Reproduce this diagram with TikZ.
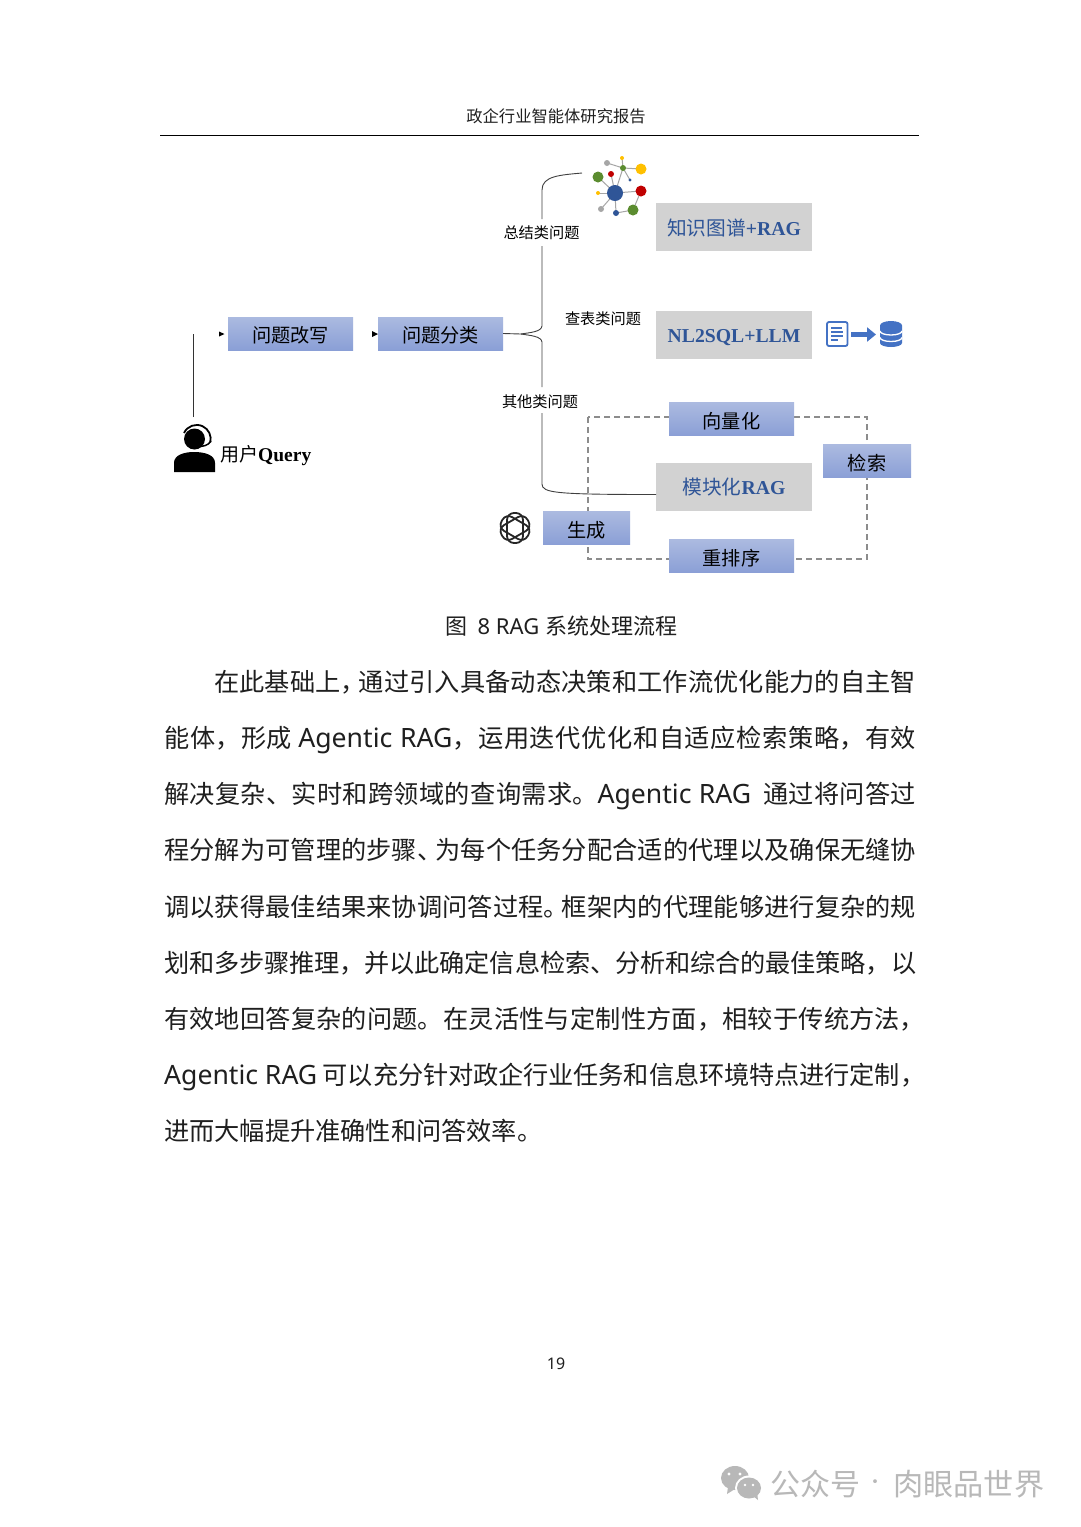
\documentclass[tikz,border=0pt]{standalone}
\usepackage{fontspec}
\setmainfont{Noto Sans CJK SC}
\newfontfamily\lat{Noto Sans}
\newfontfamily\serifb[BoldFont=Liberation Serif Bold]{Liberation Serif}
\usetikzlibrary{arrows.meta,calc}
\XeTeXlinebreaklocale "zh"
\XeTeXlinebreakskip=0pt plus 3pt minus 1.5pt
\definecolor{bluetop}{HTML}{ABBAE0}
\definecolor{bluebot}{HTML}{8A9FD6}
\definecolor{greybox}{HTML}{D2D2D2}
\definecolor{deepblue}{HTML}{2F5597}
\definecolor{iconblue}{HTML}{4472C4}
\definecolor{bodyink}{HTML}{1F1F1F}
\definecolor{wm}{HTML}{B8B8B8}
\newcommand{\fs}[1]{\fontsize{#1}{#1}\selectfont}
\newcommand{\ser}[1]{{\serifb\bfseries #1}}
\newcommand{\lw}[2]{\raisebox{-#1pt}[\height][\depth]{#2}}
\newcommand{\lo}[1]{\lw{1.9}{#1}}
\newcommand{\Ag}{{\lat\fs{26.6}Agentic RAG}}
\newcommand{\jline}[2]{\parbox[b]{#1}{\parfillskip=0pt\tolerance=10000\pretolerance=-1\hbadness=10000\hfuzz=20pt\noindent #2}}
\tikzset{
 bluebox/.style={minimum width=#1,minimum height=33pt,inner sep=0pt,top color=bluetop,bottom color=bluebot,font=\fs{19.2},text=black},
 greyrect/.style={fill=greybox,minimum width=156pt,minimum height=48pt,inner sep=0pt,font=\fs{19.7},text=deepblue},
 smalllabel/.style={inner sep=1pt,font=\fs{15.2},text=black},
 bodyline/.style={anchor=base west,inner sep=0pt,font=\fs{25.2},text=bodyink},
 wire/.style={draw=black!75,line width=.9pt},
 dashwire/.style={draw=black!45,line width=1.05pt,dash pattern=on 6pt off 4pt},
 tipmark/.style={fill=black},
 gedge/.style={draw=black!35,line width=1pt},
}
\begin{document}
\begin{tikzpicture}[x=1pt,y=-1pt]
\useasboundingbox[fill=white] (0,0) rectangle (1080,1527);
% header
\node[font=\fs{16.3},text=bodyink,inner sep=0pt] (hdr) at (556,116) {政企行业智能体研究报告};
\coordinate (rl) at (160,135.5); \coordinate (rr) at (919,135.5);
\draw[black,line width=1pt] (rl) -- (rr);
% dashed loop (behind boxes)
\draw[dashwire] (588,417) rectangle (867,559);
% boxes
\node[bluebox=125pt] (gx) at (290.5,333.5) {\lo{问题改写}};
\node[bluebox=125pt] (fl) at (440.5,333.5) {\lo{问题分类}};
\node[greyrect] (kg) at (734,227) {\lw{.6}{知识图谱\ser{+RAG}}\hspace{6pt}};
\node[greyrect] (sql) at (734,335) {\lw{2.5}{\ser{NL2SQL+LLM}}};
\node[greyrect] (mod) at (734,486.5) {\lw{.8}{模块化\ser{RAG}}};
\node[bluebox=125pt] (vec) at (731.5,419) {\lo{向量化}};
\node[bluebox=88pt] (ret) at (867,461) {\lo{检索}};
\node[bluebox=87pt] (gen) at (586.5,528) {\lo{生成}};
\node[bluebox=125pt] (rer) at (731.5,556) {\lo{重排序}};
% labels
\node[smalllabel] (l1) at (541.5,233) {总结类问题};
\node[smalllabel] (l2) at (603,319) {查表类问题};
\node[smalllabel] (l3) at (540,401.5) {其他类问题};
% brace connectors
\coordinate (kgend) at (582,173);
\coordinate (modend) at (656,494.5);
\coordinate (brtip) at (521,334);
\coordinate (brtop) at (542,190);
\coordinate (brbot) at (542,484);
\coordinate (g1a) at (542,219); \coordinate (g1b) at (542,246);
\coordinate (g3a) at (542,387); \coordinate (g3b) at (542,413);
\draw[wire] (fl.east) -- (brtip);
\draw[wire] (brtip) .. controls (530,332.5) and (541,332) .. (542,326) -- (g1b);
\draw[wire] (g1a) -- (brtop) .. controls (542,176) and (560,175) .. (kgend);
\draw[wire] (brtip) .. controls (530,335.5) and (541,336) .. (542,342) -- (g3a);
\draw[wire] (g3b) -- (brbot) .. controls (542,493) and (556,494.5) .. (modend);
% user line and arrow marks
\coordinate (usr) at (193.5,417); \coordinate (usrup) at (193.5,334);
\draw[black!80,line width=.9pt] (usr) -- (usrup);
\fill[tipmark] (219,331.5) -- (224.5,334) -- (219,336.5) -- cycle;
\fill[tipmark] (372,331) -- (378,334) -- (372,337) -- cycle;
% user
\fill[black] (194.5,439) circle (10.5);
\draw[black,line width=1.8pt] (184,433) arc[start angle=205,end angle=375,radius=14];
\draw[black,line width=1.5pt] (211,441) .. controls (208,446) and (203,446) .. (198,447);
\fill[black] (174,472) -- (174,463) .. controls (174,455) and (184,452) .. (194,452) .. controls (205,452) and (215,455) .. (215,463) -- (215,472) -- cycle;
\node[anchor=west,inner sep=0pt,font=\fs{19},text=black] (uq) at (220,456) {用户\ser{\fs{19.5}Query}};
% knowledge graph icon
\coordinate (n0) at (615,193);
\foreach \a/\b in {598/177,611/174,598/193,601/209,616/213}{\coordinate (t) at (\a,\b);\draw[gedge] (n0) -- (t);}
\draw[gedge] (616,213) -- (633,210) -- (641,191) -- (615,193);
\draw[gedge] (615,193) -- (623,168) -- (607,163);
\draw[gedge] (622,158) -- (623,168) -- (641,169);
\draw[gedge] (623,168) -- (630,180);
\foreach \a/\b/\r/\c in {615/193/8/2F5597,598/177/5.5/5B8C2F,611/174/3/C00000,607/163/3/A6A6A6,623/168/3/5B8C2F,622/158/2/FFC000,641/169/5.5/FFC000,630/180/1.7/2F5597,641/191/5.5/C00000,598/193/2/FFC000,601/209/3/A6A6A6,616/213/3/2F5597,633/210/5.5/5B8C2F}{
 \definecolor{tmpc}{HTML}{\c}\fill[tmpc] (\a,\b) circle (\r);}
% doc -> db icon
\draw[iconblue,line width=1.8pt,rounded corners=2pt] (827,322) rectangle (847.5,346);
\foreach \y/\e in {328/842,332/843,336/843,340/838}{\draw[iconblue,line width=1.4pt] (831,\y) -- (\e,\y);}
\draw[iconblue,line width=4.5pt,-{Triangle[width=14pt,length=9pt]}] (851,334.5) -- (876,334.5);
\fill[iconblue] (880,325.5) -- (880,343) arc[start angle=180,end angle=0,x radius=11,y radius=4] -- (902,325.5) arc[start angle=0,end angle=-180,x radius=11,y radius=4.5] -- cycle;
\foreach \y in {331,337.5}{\draw[white,line width=1.3pt] (880,\y) arc[start angle=180,end angle=0,x radius=11,y radius=4];}
% openai knot
\foreach \r in {30,90,150}{\draw[black!85,line width=1.8pt,rounded corners=7pt,rotate around={\r:(515,528)}] (500,520) rectangle (530,536);}
% caption
\node[font=\fs{22},text=bodyink,inner sep=0pt] (cap) at (561.5,626) {图\hspace{5pt} {\lat 8 RAG}\hspace{1pt} 系统处理流程};
% body
\node[bodyline] (b1) at (214,691) {\jline{702pt}{在此基础上，\hspace{-7pt}通过引入具备动态决策和工作流优化能力的自主智}};
\node[bodyline] (b2) at (164,747) {\jline{752pt}{能体，形成 \Ag，运用迭代优化和自适应检索策略，有效}};
\node[bodyline] (b3) at (164,803) {\jline{752pt}{解决复杂、实时和跨领域的查询需求。\Ag\hspace{6pt} 通过将问答过}};
\node[bodyline] (b4) at (164,859) {\jline{752pt}{程分解为可管理的步骤、\hspace{-7pt}为每个任务分配合适的代理以及确保无缝协}};
\node[bodyline] (b5) at (164,916) {\jline{752pt}{调以获得最佳结果来协调问答过程。\hspace{-7pt}框架内的代理能够进行复杂的规}};
\node[bodyline] (b6) at (164,972) {\jline{752pt}{划和多步骤推理，并以此确定信息检索、分析和综合的最佳策略，以}};
\node[bodyline] (b7) at (164,1028) {\jline{752pt}{有效地回答复杂的问题。在灵活性与定制性方面，相较于传统方法，\kern-9pt}};
\node[bodyline] (b8) at (164,1084) {\jline{752pt}{\Ag{} 可以充分针对政企行业任务和信息环境特点进行定制，\kern-9pt}};
\node[bodyline] (b9) at (164,1140) {进而大幅提升准确性和问答效率。};
% page number
\node[font=\fs{16},text=bodyink,inner sep=0pt] (pg) at (556,1364) {\lat 19};
% watermark
\fill[wm] (735,1478) ellipse (14 and 12);
\fill[wm] (728,1487) -- (727,1494) -- (735,1489) -- cycle;
\fill[white] (749,1488) ellipse (14 and 12.5);
\fill[wm] (749,1488) ellipse (12 and 10.5);
\fill[wm] (753,1496) -- (758,1500) -- (757,1492) -- cycle;
\foreach \p in {(729,1474),(740,1474)}{\fill[white] \p circle (1.6);}
\foreach \p in {(745,1485),(753,1485)}{\fill[white] \p circle (1.4);}
\node[anchor=west,inner sep=0pt,font=\fs{30},text=wm] (wmt) at (770.5,1484) {公众号};
\node[inner sep=0pt,font=\fs{18},text=wm] (wmd) at (875,1484) {·};
\node[anchor=west,inner sep=0pt,font=\fs{30.2},text=wm] (wmn) at (893,1484) {肉眼品世界};
\end{tikzpicture}
\end{document}
